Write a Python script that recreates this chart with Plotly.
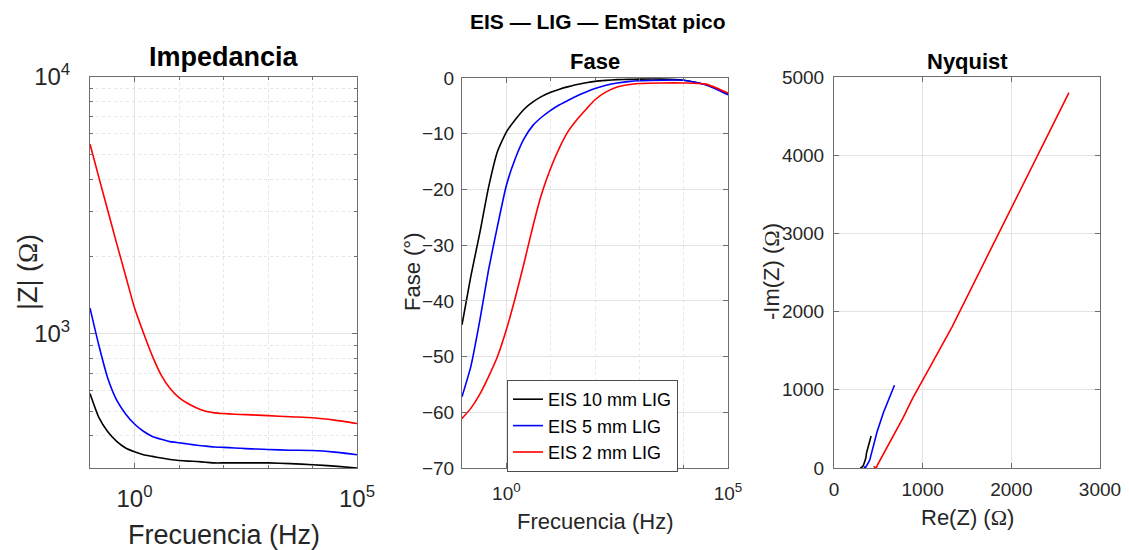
import numpy as np
import plotly.graph_objects as go

# ---------------- data ----------------
freq_hz = [0.1, 0.158, 0.251, 0.398, 0.631, 1.0, 1.585, 2.512, 3.981, 6.31,
           10, 15.85, 25.12, 39.81, 63.1, 100, 177.8, 316.2, 562.3, 1000,
           3162, 10000, 31620, 100000]

series_names = ["EIS 10 mm LIG", "EIS 5 mm LIG", "EIS 2 mm LIG"]
series_colors = ["#000000", "#0000ff", "#ff0000"]

zmod_10mm = [585, 472, 415, 381, 359, 347, 338, 333, 328, 324,
             321, 319, 318, 316, 314, 314, 314, 314, 314, 314,
             312, 309, 305, 300]
zmod_5mm = [1259, 902, 671, 551, 487, 445, 417, 398, 388, 380,
            376, 372, 368, 365, 362, 361, 359, 357, 355.5, 354,
            352, 351, 346, 338]
zmod_2mm = [5483, 4064, 3020, 2244, 1683, 1262, 1009, 820, 690, 612,
            564, 535, 514, 499, 492, 489, 486, 484, 482, 480,
            475, 471, 461, 447]

phase_10mm = [-44.3, -35.6, -27.9, -19.6, -13.2, -9.7, -7.5, -5.6, -4.3, -3.3,
              -2.55, -2.0, -1.55, -1.15, -0.85, -0.6, -0.42, -0.3, -0.24, -0.2,
              -0.2, -0.4, -1.2, -2.8]
phase_5mm = [-57.2, -51.8, -43.6, -34.4, -26.6, -19.3, -14.5, -10.9, -8.5, -7.0,
             -5.8, -4.8, -4.0, -3.2, -2.5, -1.9, -1.3, -0.9, -0.65, -0.5,
             -0.4, -0.4, -1.2, -3.0]
phase_2mm = [-61.1, -59.3, -56.8, -53.6, -50.0, -45.2, -39.5, -33.2, -26.6, -20.7,
             -16.2, -12.5, -9.5, -7.4, -5.6, -3.9, -2.5, -1.6, -1.2, -1.0,
             -0.9, -0.9, -1.1, -2.7]

zmod_all = [zmod_10mm, zmod_5mm, zmod_2mm]
phase_all = [phase_10mm, phase_5mm, phase_2mm]

# tick labels
imp_x_ticks = [1, 100000]
imp_x_ticktext = ["10<sup>0</sup>", "10<sup>5</sup>"]
imp_x_minor = [10, 100, 1000, 10000]
imp_y_ticks = [1000, 10000]
imp_y_ticktext = ["10<sup>3</sup>", "10<sup>4</sup>"]
imp_y_minor = [400, 500, 600, 700, 800, 900, 2000, 3000, 4000, 5000, 6000, 7000, 8000, 9000]
fase_y_ticks = [0, -10, -20, -30, -40, -50, -60, -70]
nyq_x_ticks = [0, 1000, 2000, 3000]
nyq_y_ticks = [0, 1000, 2000, 3000, 4000, 5000]

# ---------------- figure ----------------
# the page has an 8 px body margin, so the figure is drawn 8 px smaller and
# positions (measured in window pixels) are shifted by that offset
OFF = 8
W, H = 1129 - OFF, 550 - OFF
FONT = "Liberation Sans, Arial, Helvetica, sans-serif"
TXT = "#262626"
AX = "#6e6e6e"
GRID = "#e3e3e3"
MGRID = "#e6e6e6"


def px_x(p):
    return (p - OFF) / W


def px_y(p):
    return 1 - (p - OFF) / H


fig = go.Figure()

for name, col, zm, ph in zip(series_names, series_colors, zmod_all, phase_all):
    zm = np.array(zm, dtype=float)
    ph = np.array(ph, dtype=float)
    fig.add_trace(go.Scatter(x=freq_hz, y=zm, mode="lines",
                             line=dict(color=col, width=1.6, shape="spline", smoothing=0.5),
                             xaxis="x", yaxis="y", showlegend=False, name=name))
    fig.add_trace(go.Scatter(x=freq_hz, y=ph, mode="lines",
                             line=dict(color=col, width=1.6, shape="spline", smoothing=0.5),
                             xaxis="x2", yaxis="y2", showlegend=True, name=name))
    re = zm * np.cos(np.deg2rad(ph))
    mim = -zm * np.sin(np.deg2rad(ph))
    fig.add_trace(go.Scatter(x=re, y=mim, mode="lines", line=dict(color=col, width=1.6),
                             xaxis="x3", yaxis="y3", showlegend=False, name=name))

dom1 = [px_x(90), px_x(357)]
dom2 = [px_x(462), px_x(728)]
dom3 = [px_x(834), px_x(1100)]
ydom = [px_y(468), px_y(77)]

common = dict(showline=True, linecolor=AX, linewidth=1, mirror="allticks", ticks="inside",
              ticklen=5, tickcolor=AX, tickwidth=1, zeroline=False, showgrid=True,
              gridcolor=GRID, gridwidth=1, automargin=False, color=TXT)

big_tick = dict(family=FONT, size=24, color=TXT)
small_tick = dict(family=FONT, size=19, color=TXT)

fig.update_layout(
    width=W, height=H,
    margin=dict(l=0, r=0, t=0, b=0),
    paper_bgcolor="white", plot_bgcolor="white",
    font=dict(family=FONT, color=TXT),
    xaxis=dict(domain=dom1, type="log", range=[-1, 5], tickmode="array", tickvals=imp_x_ticks,
               ticktext=imp_x_ticktext, tickfont=big_tick, anchor="y", ticklabelstandoff=9,
               minor=dict(tickmode="array", tickvals=imp_x_minor, showgrid=True, gridcolor=MGRID,
                          griddash="dot", ticks="inside", ticklen=3, tickcolor=AX),
               **common),
    yaxis=dict(domain=ydom, type="log", range=[np.log10(300), 4], tickmode="array", tickvals=imp_y_ticks,
               ticktext=imp_y_ticktext, tickfont=big_tick, anchor="x", ticklabelstandoff=14,
               minor=dict(tickmode="array", tickvals=imp_y_minor, showgrid=True, gridcolor=MGRID,
                          griddash="dot", ticks="inside", ticklen=3, tickcolor=AX),
               **common),
    xaxis2=dict(domain=dom2, type="log", range=[-1, 5], tickmode="array", tickvals=imp_x_ticks,
                ticktext=imp_x_ticktext, tickfont=small_tick, anchor="y2", ticklabelstandoff=8,
                minor=dict(tickmode="array", tickvals=imp_x_minor, showgrid=True, gridcolor=MGRID,
                           griddash="dot", ticks="inside", ticklen=3, tickcolor=AX),
                **common),
    yaxis2=dict(domain=[px_y(468), px_y(78)], range=[-70, 0], tickmode="array", tickvals=fase_y_ticks,
                tickfont=small_tick, anchor="x2", ticklabelstandoff=3, **common),
    xaxis3=dict(domain=dom3, range=[0, 3000], tickmode="array", tickvals=nyq_x_ticks,
                tickfont=small_tick, anchor="y3", ticklabelstandoff=4, **common),
    yaxis3=dict(domain=ydom, range=[0, 5000], tickmode="array", tickvals=nyq_y_ticks,
                tickfont=small_tick, anchor="x3", ticklabelstandoff=5, **common),
    legend=dict(x=px_x(507), y=px_y(380), xanchor="left", yanchor="top",
                bgcolor="white", bordercolor="#4d4d4d", borderwidth=1,
                font=dict(family=FONT, size=18, color="#000000"),
                itemwidth=30, tracegroupgap=0),
)

OM = "<span style=\"font-family:'Liberation Serif', 'DejaVu Serif', serif\">Ω</span>"

ann = [
    dict(text="<b>EIS — LIG — EmStat pico</b>", x=px_x(598), y=px_y(22), size=21, color="#000000"),
    dict(text="<b>Impedancia</b>", x=px_x(223.5), y=px_y(57), size=27, color="#000000"),
    dict(text="<b>Fase</b>", x=px_x(595), y=px_y(62), size=22, color="#000000"),
    dict(text="<b>Nyquist</b>", x=px_x(967), y=px_y(62), size=22, color="#000000"),
    dict(text="Frecuencia (Hz)", x=px_x(223.5), y=px_y(535), size=27, color=TXT),
    dict(text="Frecuencia (Hz)", x=px_x(595), y=px_y(521), size=22, color=TXT),
    dict(text="Re(Z) (" + OM + ")", x=px_x(967), y=px_y(517), size=22, color=TXT),
    dict(text="|Z| (" + OM + ")", x=px_x(28), y=px_y(272), size=27, color=TXT, angle=-90),
    dict(text="Fase (°)", x=px_x(412), y=px_y(272), size=22, color=TXT, angle=-90),
    dict(text="-Im(Z) (" + OM + ")", x=px_x(771), y=px_y(272), size=22, color=TXT, angle=-90),
]
for a in ann:
    fig.add_annotation(text=a["text"], x=a["x"], y=a["y"], xref="paper", yref="paper",
                       xanchor="center", yanchor="middle", showarrow=False,
                       textangle=a.get("angle", 0),
                       font=dict(family=FONT, size=a["size"], color=a["color"]))

fig.write_html("out.html")
